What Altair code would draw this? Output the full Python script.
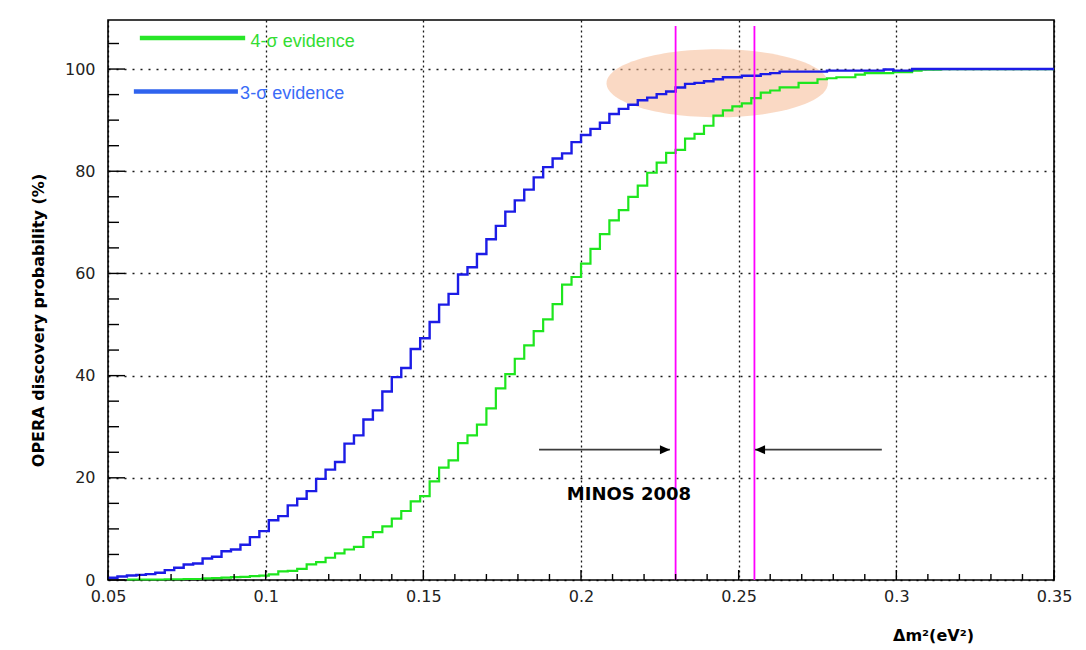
import altair as alt
import pandas as pd

# ---------------- data ----------------
BIN_START = 0.05
BIN_WIDTH = 0.003
X_END = 0.35

# 3-sigma evidence probability (%) per bin, bins start at 0.05, width 0.003
BLUE_3SIGMA = [
    0.44, 0.69, 0.89, 1.0, 1.15, 1.41, 1.93, 2.39, 3.04, 3.24,
    4.21, 4.54, 5.64, 5.97, 6.89, 8.39, 9.56, 11.7, 12.5, 14.6,
    15.9, 17.4, 19.8, 21.6, 23.1, 26.7, 28.3, 31.4, 33.2, 36.9,
    39.7, 41.5, 45.2, 47.3, 50.5, 53.9, 56.0, 59.8, 61.2, 63.8,
    66.7, 69.3, 72.1, 74.3, 76.4, 78.8, 80.8, 82.5, 83.5, 85.7,
    87.1, 88.3, 89.5, 91.2, 92.2, 93.0, 93.9, 94.4, 95.1, 95.6,
    96.4, 97.1, 97.3, 97.6, 98.0, 98.4, 98.4, 98.7, 98.7, 99.0,
    99.2, 99.5, 99.5, 99.5, 99.5, 99.5, 99.7, 99.7, 99.7, 99.7,
    99.7, 99.7, 99.9, 99.7, 99.7, 100, 100, 100, 100, 100,
    100, 100, 100, 100, 100, 100, 100, 100, 100, 100,
]

# 4-sigma evidence probability (%) per bin, starting at bin 2
GREEN_START_BIN = 2
GREEN_4SIGMA = [
    0.1, 0.1, 0.1, 0.1, 0.15, 0.15, 0.2, 0.2,
    0.3, 0.35, 0.45, 0.56, 0.6, 0.76, 0.85, 1.1, 1.67, 1.8,
    2.19, 3.04, 3.5, 4.35, 5.2, 5.97, 6.5, 8.4, 9.37, 10.5,
    12.0, 13.5, 15.4, 16.4, 19.3, 22.0, 23.4, 26.8, 28.3, 30.4,
    33.6, 37.5, 40.3, 43.3, 45.9, 48.7, 51.0, 54.0, 57.8, 59.3,
    61.9, 64.8, 67.7, 70.4, 72.4, 75.0, 77.2, 79.7, 81.7, 83.6,
    84.2, 86.4, 87.3, 88.9, 90.9, 91.9, 92.7, 93.3, 94.3, 95.4,
    95.8, 96.4, 96.4, 97.3, 97.3, 98.0, 98.2, 98.4, 98.4, 98.9,
    99.2, 99.2, 99.2, 99.4, 99.4, 99.7, 99.9, 99.9, 100, 100,
    100, 100, 100, 100, 100, 100, 100, 100,
]

MINOS_LINES = [0.23, 0.255]
ARROW_X = [0.1867, 0.2954]
ARROW_X2 = [0.2282, 0.2552]
ARROW_Y = [25.5, 25.5]
MINOS_LABEL = "MINOS 2008"
MINOS_LABEL_POS = [0.2152, 16.7]

ELLIPSE_CENTER = [0.2432, 97.2]

LEGEND_LABELS = ["4-σ evidence", "3-σ evidence"]
LEGEND_LINE_X = [0.0601, 0.0582]
LEGEND_LINE_X2 = [0.0935, 0.0912]
LEGEND_LINE_Y = [106.1, 95.6]
LEGEND_TEXT_X = [0.0952, 0.0919]
LEGEND_TEXT_Y = [105.2, 95.2]

X_MAJOR = [0.05, 0.1, 0.15, 0.2, 0.25, 0.3, 0.35]
X_MINOR = [0.06, 0.07, 0.08, 0.09, 0.11, 0.12, 0.13, 0.14, 0.16, 0.17, 0.18, 0.19,
           0.21, 0.22, 0.23, 0.24, 0.26, 0.27, 0.28, 0.29, 0.31, 0.32, 0.33, 0.34]
Y_MAJOR = [0, 20, 40, 60, 80, 100]
Y_MINOR = [5, 10, 15, 25, 30, 35, 45, 50, 55, 65, 70, 75, 85, 90, 95, 105]

X_TITLE = "Δm²(eV²)"
Y_TITLE = "OPERA discovery probability (%)"

# ---------------- build tables ----------------
def step_rows(values, start_bin):
    rows = [{"x": BIN_START + BIN_WIDTH * (start_bin + i), "y": v} for i, v in enumerate(values)]
    rows.append({"x": X_END, "y": values[-1]})
    return pd.DataFrame(rows)

blue_df = step_rows(BLUE_3SIGMA, 0)
green_df = step_rows(GREEN_4SIGMA, GREEN_START_BIN)

W, H = 946, 560
xs = alt.Scale(domain=[0.05, 0.35], nice=False, zero=False)
ys = alt.Scale(domain=[0, 109.6], nice=False, zero=False)

FONT = "DejaVu Sans"

x_axis = alt.Axis(values=X_MAJOR, format="~g", grid=True, gridDash=[2, 3], gridColor="black",
                  gridWidth=1.3, gridOpacity=0.9, ticks=False, domain=False,
                  labelFont=FONT, labelFontSize=16, labelColor="#222222", labelPadding=8,
                  labelFlush=False, labelOverlap=False,
                  title=X_TITLE, titleFont=FONT, titleFontWeight="bold", titleFontSize=16,
                  titleColor="black", titleX=825, titleY=55, titleAlign="center",
                  titleBaseline="middle")
y_axis = alt.Axis(values=Y_MAJOR, grid=True, gridDash=[2, 6], gridColor="black",
                  gridWidth=1.3, gridOpacity=0.9, ticks=False, domain=False,
                  labelFont=FONT, labelFontSize=16, labelColor="#222222", labelPadding=13,
                  labelOverlap=False,
                  title=Y_TITLE, titleFont=FONT, titleFontWeight="bold", titleFontSize=16,
                  titleColor="black", titleX=-70, titleY=300, titleAngle=270,
                  titleAlign="center", titleBaseline="middle")

X = lambda f: alt.X(f, scale=xs, axis=x_axis)
Y = lambda f: alt.Y(f, scale=ys, axis=y_axis)

ELLIPSE_PATH = ("M -1 0 C -1 -0.1696 -0.5523 -0.307 0 -0.307 "
                "C 0.5523 -0.307 1 -0.1696 1 0 "
                "C 1 0.1696 0.5523 0.307 0 0.307 "
                "C -0.5523 0.307 -1 0.1696 -1 0 Z")

ellipse = alt.Chart(pd.DataFrame({"x": [ELLIPSE_CENTER[0]], "y": [ELLIPSE_CENTER[1]]})).mark_point(
    shape=ELLIPSE_PATH, filled=True, fill="#f6b994", opacity=0.55, size=49018, strokeWidth=0
).encode(x=X("x:Q"), y=Y("y:Q"))

green_line = alt.Chart(green_df).mark_line(
    interpolate="step-after", color="#1ee61e", strokeWidth=2.2
).encode(x=X("x:Q"), y=Y("y:Q"))

blue_line = alt.Chart(blue_df).mark_line(
    interpolate="step-after", color="#1c1ce6", strokeWidth=2.4
).encode(x=X("x:Q"), y=Y("y:Q"))

magenta = alt.Chart(pd.DataFrame({"x": MINOS_LINES})).mark_rule(
    color="#ff00ff", strokeWidth=1.8
).encode(x=X("x:Q"), y=alt.value(6), y2=alt.value(H))

arrow_df = pd.DataFrame({"x": ARROW_X, "x2": ARROW_X2, "y": ARROW_Y})
arrow_lines = alt.Chart(arrow_df).mark_rule(color="#3c3c3c", strokeWidth=1.8).encode(
    x=X("x:Q"), x2="x2:Q", y=Y("y:Q"))

head_right = alt.Chart(pd.DataFrame({"x": [ARROW_X2[0]], "y": [ARROW_Y[0]]})).mark_point(
    shape="M 0 0 L -2 -0.9 L -2 0.9 Z", filled=True, color="black", opacity=1, size=100
).encode(x=X("x:Q"), y=Y("y:Q"))
head_left = alt.Chart(pd.DataFrame({"x": [ARROW_X2[1]], "y": [ARROW_Y[1]]})).mark_point(
    shape="M 0 0 L 2 -0.9 L 2 0.9 Z", filled=True, color="black", opacity=1, size=100
).encode(x=X("x:Q"), y=Y("y:Q"))

minos_text = alt.Chart(pd.DataFrame({"x": [MINOS_LABEL_POS[0]], "y": [MINOS_LABEL_POS[1]],
                                     "t": [MINOS_LABEL]})).mark_text(
    font=FONT, fontWeight="bold", fontSize=18, color="black", align="center", baseline="middle"
).encode(x=X("x:Q"), y=Y("y:Q"), text="t:N")

# ticks drawn inward like the original frame
def xticks(vals, length):
    return alt.Chart(pd.DataFrame({"x": vals})).mark_rule(color="black", strokeWidth=1.4).encode(
        x=X("x:Q"), y=alt.value(H), y2=alt.value(H - length))

def yticks(vals, length):
    return alt.Chart(pd.DataFrame({"y": vals})).mark_rule(color="black", strokeWidth=1.4).encode(
        y=Y("y:Q"), x=alt.value(0), x2=alt.value(length))

leg_df = pd.DataFrame({"x": LEGEND_LINE_X, "x2": LEGEND_LINE_X2, "y": LEGEND_LINE_Y,
                       "tx": LEGEND_TEXT_X, "ty": LEGEND_TEXT_Y, "label": LEGEND_LABELS})
legend_lines = alt.Chart(leg_df).mark_rule(strokeWidth=4.5).encode(
    x=X("x:Q"), x2="x2:Q", y=Y("y:Q"),
    color=alt.Color("label:N", scale=alt.Scale(domain=LEGEND_LABELS, range=["#28e628", "#2f63ee"]),
                    legend=None))
legend_text = alt.Chart(leg_df).mark_text(
    font="Liberation Sans", fontSize=18, align="left", baseline="middle"
).encode(
    x=X("tx:Q"), y=Y("ty:Q"), text="label:N",
    color=alt.Color("label:N", scale=alt.Scale(domain=LEGEND_LABELS, range=["#33dd33", "#3a6cf7"]),
                    legend=None))

chart = alt.layer(
    ellipse, green_line, blue_line, magenta, arrow_lines, head_right, head_left, minos_text,
    xticks(X_MAJOR, 10), xticks(X_MINOR, 6), yticks(Y_MAJOR, 17), yticks(Y_MINOR, 11),
    legend_lines, legend_text,
).resolve_scale(color="independent").properties(
    width=W, height=H,
    padding={"left": 108, "top": 20, "right": 32, "bottom": 70},
    autosize=alt.AutoSizeParams(type="none"),
    background="white",
).configure_view(stroke="black", strokeWidth=1.6)

chart.save("out.html", embed_options={"renderer": "svg", "actions": False})
